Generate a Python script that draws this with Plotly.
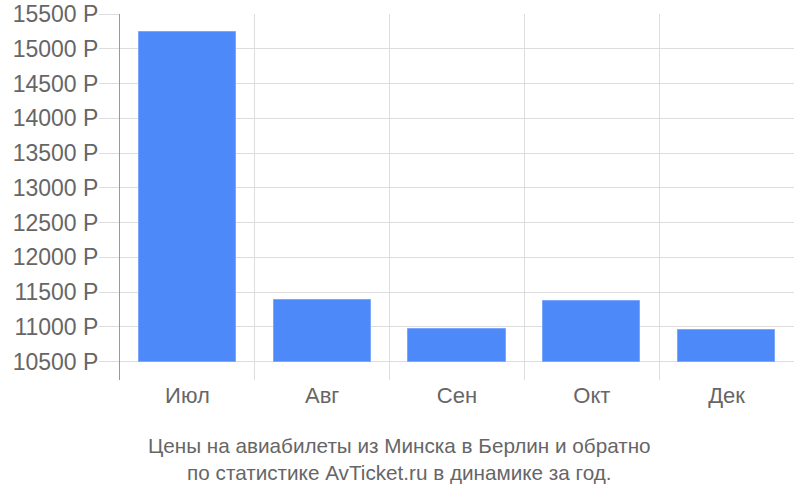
import plotly.graph_objects as go

categories = ["Июл", "Авг", "Сен", "Окт", "Дек"]
prices = [15240, 11390, 10970, 11375, 10960]
base_value = 10500
y_ticks = [10500, 11000, 11500, 12000, 12500, 13000, 13500, 14000, 14500, 15000, 15500]
y_tick_labels = [f"{v} Р" for v in y_ticks]
title_lines = ["Цены на авиабилеты из Минска в Берлин и обратно",
               "по статистике AvTicket.ru в динамике за год."]

xs = list(range(len(categories)))

fig = go.Figure()
fig.add_trace(go.Bar(
    x=xs,
    y=[p - base_value for p in prices],
    base=base_value,
    width=0.72,
    marker=dict(color="#4d89f9", line=dict(color="#7aa7fb", width=1)),
    hoverinfo="skip",
))

fig.update_layout(
    width=800, height=500,
    margin=dict(l=120, r=6, t=14, b=120),
    paper_bgcolor="white", plot_bgcolor="white",
    showlegend=False,
    font=dict(family="Liberation Sans, Arial, sans-serif", color="#666666"),
    bargap=0,
)
fig.update_xaxes(
    range=[-0.5, len(categories) - 0.5],
    tickmode="array", tickvals=xs, ticktext=categories,
    tickfont=dict(size=22, color="#666666"),
    showgrid=False, ticks="", zeroline=False, automargin=False,
    minor=dict(tickmode="array", tickvals=[i - 0.5 for i in range(len(categories) + 1)],
               showgrid=True, gridcolor="#dddddd", gridwidth=1, ticks=""),
    showline=False,
)
fig.update_yaxes(
    range=[10237, 15500],
    tickmode="array", tickvals=y_ticks, ticktext=y_tick_labels,
    tickfont=dict(size=23, color="#666666"),
    showgrid=True, gridcolor="#dddddd", gridwidth=1,
    ticks="outside", ticklen=20, tickcolor="#dddddd", tickwidth=1,
    ticklabelstandoff=-4, ticklabeloverflow="allow",
    showline=True, linecolor="#999999", linewidth=1,
    zeroline=False, automargin=False,
)
fig.add_annotation(
    text="<br>".join(title_lines),
    xref="paper", yref="paper", x=0.415, y=-0.142,
    xanchor="center", yanchor="top", showarrow=False,
    font=dict(size=20.7, color="#666666"),
    align="center",
)
fig.write_html("out.html", config={"displayModeBar": False},
               post_script="document.body.style.margin='0';")
